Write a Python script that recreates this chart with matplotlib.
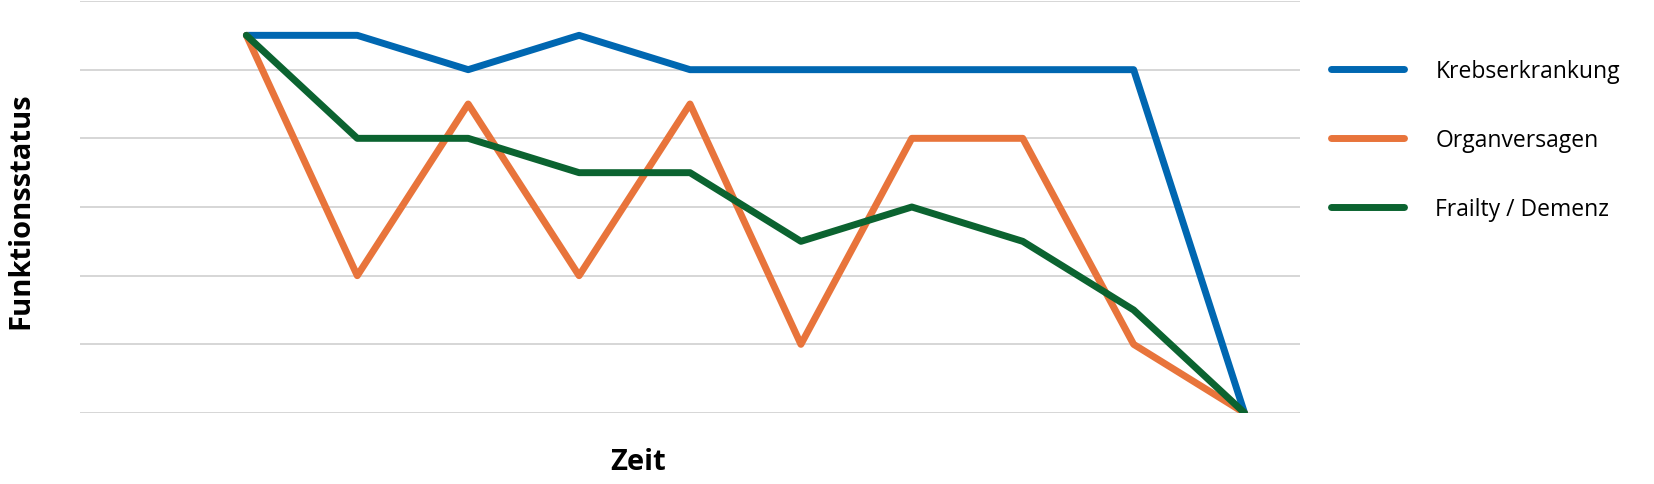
import matplotlib.pyplot as plt

plt.rcParams['font.family'] = ['Open Sans', 'DejaVu Sans']

# Zeitpunkte (ohne Beschriftung) und Funktionsstatus je Verlauf
zeitpunkte = list(range(10))
krebs = [5.5, 5.5, 5.0, 5.5, 5.0, 5.0, 5.0, 5.0, 5.0, 0.0]
organ = [5.5, 2.0, 4.5, 2.0, 4.5, 1.0, 4.0, 4.0, 1.0, 0.0]
frailty = [5.5, 4.0, 4.0, 3.5, 3.5, 2.5, 3.0, 2.5, 1.5, 0.0]

namen = ["Krebserkrankung", "Organversagen", "Frailty / Demenz"]
farben = ["#0067b1", "#e8743b", "#0b6330"]

fig = plt.figure(figsize=(16.54, 4.85), dpi=100)
ax = fig.add_axes([80 / 1654, 71 / 485, 1220 / 1654, 412 / 485])

for werte, name, farbe in zip([krebs, organ, frailty], namen, farben):
    ax.plot(zeitpunkte, werte, color=farbe, lw=5, label=name,
            solid_joinstyle="round", solid_capstyle="round")

ax.set_xlim(-1.5, 9.5)
ax.set_ylim(0, 6)
ax.set_yticks(range(7))
ax.set_xticks([])
ax.tick_params(axis="y", length=0, labelleft=False)
ax.grid(axis="y", color="#d3d3d3", lw=1.3)
ax.set_axisbelow(True)
for s in ax.spines.values():
    s.set_visible(False)

fig.text(21 / 1654, 0.565, "Funktionsstatus", rotation=90, fontsize=21,
         fontweight="bold", ha="center", va="center")
fig.text(638 / 1654, 1 - 463 / 485, "Zeit", fontsize=21,
         fontweight="bold", ha="center", va="center")

leg = ax.legend(loc="upper left", bbox_to_anchor=(1331 / 1654, 1 - 60 / 485),
                bbox_transform=fig.transFigure, frameon=False, fontsize=16.5,
                handlelength=3.2, handletextpad=1.35, labelspacing=1.97,
                borderaxespad=0, borderpad=0)
for h in leg.get_lines():
    h.set_solid_capstyle("round")

fig.savefig("out.png", dpi=100)
